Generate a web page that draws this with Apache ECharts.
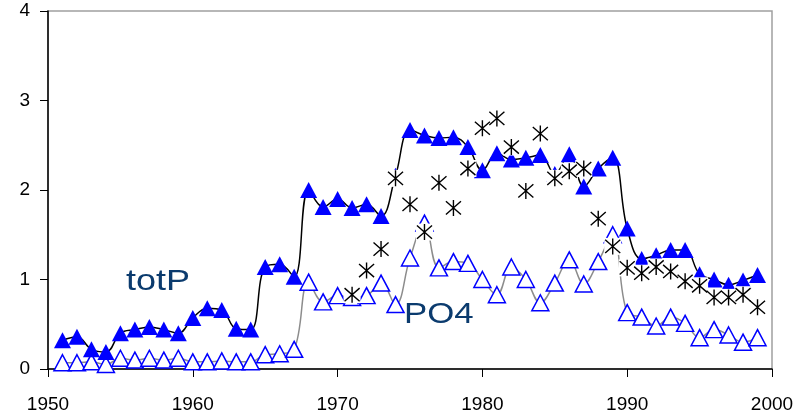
<!DOCTYPE html>
<html>
<head>
<meta charset="utf-8">
<script src="https://cdn.jsdelivr.net/npm/echarts@6/dist/echarts.min.js"></script>
<style>
  html, body { margin: 0; padding: 0; background: #fff; }
  #chart { width: 806px; height: 417px; }
</style>
</head>
<body>
<div id="chart"></div>
<script>
// years 1951..1999
const years = [1951,1952,1953,1954,1955,1956,1957,1958,1959,1960,1961,1962,1963,1964,1965,1966,1967,1968,1969,1970,
  1971,1972,1973,1974,1975,1976,1977,1978,1979,1980,1981,1982,1983,1984,1985,1986,1987,1988,1989,1990,
  1991,1992,1993,1994,1995,1996,1997,1998,1999]
const totP = [0.32,0.36,0.22,0.19,0.40,0.44,0.47,0.44,0.40,0.57,0.68,0.66,0.45,0.44,1.14,1.17,1.03,2.00,1.81,1.90,
  1.80,1.84,1.71,2.16,2.67,2.61,2.58,2.59,2.48,2.22,2.41,2.34,2.36,2.39,2.18,2.40,2.04,2.24,2.36,1.57,
  1.23,1.27,1.33,1.33,1.06,1.00,0.94,0.99,1.05]
const po4 = [0.07,0.07,0.08,0.05,0.12,0.10,0.12,0.10,0.12,0.08,0.08,0.09,0.08,0.08,0.16,0.17,0.22,0.97,0.75,0.82,
  0.80,0.82,0.96,0.72,1.24,1.63,1.13,1.20,1.18,1.00,0.83,1.14,1.00,0.74,0.96,1.22,0.95,1.20,1.50,0.63,
  0.58,0.48,0.58,0.51,0.35,0.44,0.38,0.30,0.35]
// third series (asterisks), 1971..1999
const starYears = [1971,1972,1973,1974,1975,1976,1977,1978,1979,1980,1981,1982,1983,1984,1985,1986,1987,1988,1989,1990,
  1991,1992,1993,1994,1995,1996,1997,1998,1999]
const starVals = [0.83,1.10,1.34,2.13,1.84,1.53,2.08,1.80,2.24,2.69,2.80,2.48,1.99,2.63,2.13,2.21,2.24,1.68,1.37,1.13,
  1.07,1.14,1.09,0.98,0.93,0.80,0.80,0.83,0.69]
const xTicks = [1950, 2000, 10]
const yTicks = [0, 4, 1]

const pairs = (xs, ys) => xs.map((x, i) => [x, ys[i]])
const font = "'Liberation Sans', Arial, sans-serif"
const asterisk = 'path://M8,0L8,17M0,1.5L16,15.5M0,15.5L16,1.5'

let chart = echarts.init(document.getElementById('chart'))
let option = {
  animation: false,
  grid: { left: 48, right: 34, top: 11, bottom: 48, show: true, borderColor: '#a0a0a0', borderWidth: 1.5 },
  xAxis: {
    type: 'value', min: xTicks[0], max: xTicks[1], interval: xTicks[2],
    axisLine: { lineStyle: { color: '#000', width: 1.5 } },
    axisTick: { length: 8, lineStyle: { color: '#000', width: 1 } },
    axisLabel: { color: '#000', fontSize: 19, fontFamily: font, margin: 26, formatter: (v) => String(v) },
    splitLine: { show: false }
  },
  yAxis: {
    type: 'value', min: yTicks[0], max: yTicks[1], interval: yTicks[2],
    axisLine: { show: true, lineStyle: { color: '#000', width: 1.5 } },
    axisTick: { show: true, length: 8, lineStyle: { color: '#000', width: 1 } },
    axisLabel: { color: '#000', fontSize: 19, fontFamily: font, margin: 18 },
    splitLine: { show: false }
  },
  series: [
    {
      name: 'PO4', type: 'line', data: pairs(years, po4), smooth: 0.4, z: 2,
      lineStyle: { color: '#8c8c8c', width: 1.5 },
      symbol: 'triangle', symbolSize: [17, 16],
      itemStyle: { color: '#fff', borderColor: '#0000ff', borderWidth: 1.5 }
    },
    {
      name: 'totP', type: 'line', data: pairs(years, totP), smooth: 0.4, z: 3,
      lineStyle: { color: '#000', width: 1.5 },
      symbol: 'triangle', symbolSize: [17, 16],
      itemStyle: { color: '#0000ff', borderWidth: 0 }
    },
    {
      // white backing behind each asterisk
      type: 'scatter', data: pairs(starYears, starVals), z: 4, silent: true,
      symbol: 'rect', symbolSize: 17,
      itemStyle: { color: '#fff', borderWidth: 0, opacity: 1 }
    },
    {
      name: 'other', type: 'scatter', data: pairs(starYears, starVals), z: 5,
      symbol: asterisk, symbolSize: 16, symbolKeepAspect: true,
      itemStyle: { color: 'transparent', borderColor: '#000', borderWidth: 1.4, opacity: 1 }
    }
  ],
  graphic: [
    {
      type: 'text', x: 126, y: 282, scaleX: 1.2, z: 10,
      style: { text: 'totP', font: "30px " + font, fill: '#0b3b6e', verticalAlign: 'middle' }
    },
    {
      type: 'text', x: 404, y: 315, scaleX: 1.2, z: 10,
      style: { text: 'PO4', font: "29px " + font, fill: '#0b3b6e', verticalAlign: 'middle' }
    }
  ]
}
chart.setOption(option)
</script>
</body>
</html>
